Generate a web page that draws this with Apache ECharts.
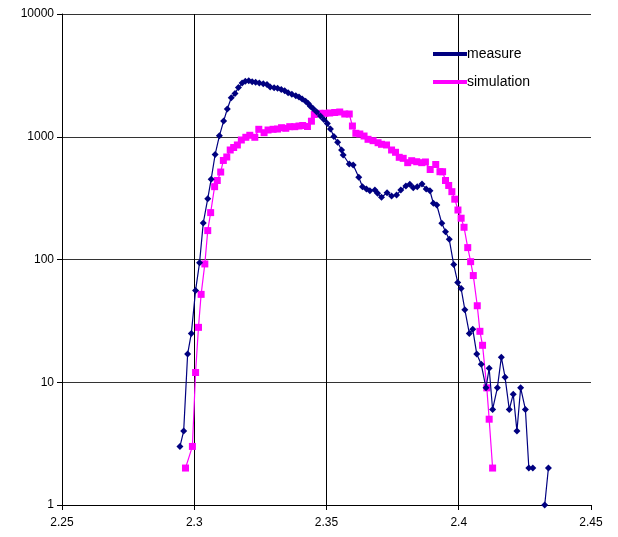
<!DOCTYPE html>
<html>
<head>
<meta charset="utf-8">
<script src="https://cdn.jsdelivr.net/npm/echarts@6/dist/echarts.min.js"></script>
<style>
  html, body { margin: 0; padding: 0; background: #fff; }
  #main { width: 618px; height: 537px; }
</style>
</head>
<body>
<div id="main"></div>
<script>
const measureX = [2.2946, 2.2960, 2.2975, 2.2989, 2.3005, 2.3020, 2.3034, 2.3051, 2.3064, 2.3079,
  2.3095, 2.3111, 2.3125, 2.3140, 2.3154, 2.3167, 2.3181, 2.3193, 2.3206, 2.3219,
  2.3232, 2.3246, 2.3261, 2.3275, 2.3287, 2.3302, 2.3315, 2.3329, 2.3342, 2.3355,
  2.3369, 2.3384, 2.3396, 2.3408, 2.3421, 2.3431, 2.3439, 2.3450, 2.3463, 2.3477,
  2.3490, 2.3503, 2.3515, 2.3528, 2.3542, 2.3557, 2.3563, 2.3586, 2.3601, 2.3622,
  2.3636, 2.3651, 2.3664, 2.3683, 2.3693, 2.3708, 2.3729, 2.3746, 2.3765, 2.3781,
  2.3800, 2.3815, 2.3828, 2.3843, 2.3861, 2.3877, 2.3891, 2.3904, 2.3917, 2.3936,
  2.3950, 2.3964, 2.3981, 2.3996, 2.4009, 2.4023, 2.4040, 2.4053, 2.4068, 2.4085,
  2.4103, 2.4115, 2.4128, 2.4146, 2.4161, 2.4175, 2.4191, 2.4206, 2.4220, 2.4234,
  2.4252, 2.4265, 2.4280, 2.4302, 2.4325, 2.4339]
const measureY = [3, 4, 17, 25, 56, 94, 198, 313, 451, 717,
  1018, 1341, 1683, 2076, 2246, 2518, 2741, 2835, 2857, 2809,
  2782, 2741, 2706, 2666, 2542, 2509, 2481, 2422, 2368, 2280,
  2217, 2160, 2108, 2030, 1945, 1866, 1774, 1693, 1591, 1476,
  1382, 1282, 1156, 1005, 901, 780, 710, 600, 589, 467,
  392, 375, 363, 368, 346, 321, 350, 329, 335, 368,
  397, 410, 385, 392, 412, 375, 363, 287, 278, 197,
  168, 146, 91, 65, 58, 39, 25, 27, 17, 14,
  9, 13, 6, 9, 16, 11, 6, 8, 4, 9,
  6, 2, 2, null, 1, 2]

const simX = [2.2967, 2.2993, 2.3005, 2.3016, 2.3026, 2.3040, 2.3051, 2.3062, 2.3077, 2.3087,
  2.3100, 2.3110, 2.3123, 2.3136, 2.3149, 2.3163, 2.3178, 2.3195, 2.3210, 2.3229,
  2.3244, 2.3264, 2.3279, 2.3298, 2.3315, 2.3330, 2.3346, 2.3361, 2.3380, 2.3396,
  2.3410, 2.3428, 2.3443, 2.3454, 2.3475, 2.3494, 2.3512, 2.3531, 2.3550, 2.3569,
  2.3586, 2.3598, 2.3611, 2.3626, 2.3642, 2.3657, 2.3676, 2.3695, 2.3708, 2.3727,
  2.3746, 2.3761, 2.3775, 2.3790, 2.3807, 2.3822, 2.3841, 2.3860, 2.3874, 2.3892,
  2.3913, 2.3929, 2.3939, 2.3950, 2.3962, 2.3974, 2.3985, 2.3997, 2.4009, 2.4020,
  2.4034, 2.4045, 2.4055, 2.4070, 2.4080, 2.4090, 2.4106, 2.4115, 2.4128]
const simY = [2, 3, 12, 28, 52, 92, 172, 241, 392, 440,
  516, 641, 684, 780, 817, 857, 941, 990, 1028, 990,
  1150, 1079, 1135, 1150, 1156, 1185, 1172, 1208, 1208, 1223,
  1235, 1212, 1339, 1518, 1552, 1552, 1561, 1576, 1591, 1532,
  1532, 1223, 1067, 1053, 1014, 953, 929, 894, 868, 857,
  780, 747, 680, 667, 615, 638, 626, 615, 623, 541,
  594, 519, 519, 440, 401, 357, 310, 253, 217, 183,
  125, 96, 74, 42, 26, 20, 9, 5, 2]

const xTicks = [2.25, 2.3, 2.35, 2.4, 2.45]
const yTicks = [1, 10, 100, 1000, 10000]

const pairs = (xs, ys) => xs.map((x, i) => [x, ys[i]])

const myChart = echarts.init(document.getElementById('main'))
const option = {
  animation: false,
  backgroundColor: '#fff',
  grid: { left: 62, right: 27, top: 14, bottom: 32 },
  legend: {
    orient: 'vertical',
    left: 428,
    top: 42,
    itemGap: 14,
    itemWidth: 34,
    itemHeight: 4,
    icon: 'rect',
    textStyle: { fontFamily: 'Liberation Sans', fontSize: 14, color: '#000', padding: [0, 0, 0, -5] },
    data: ['measure', 'simulation']
  },
  xAxis: {
    type: 'value',
    min: xTicks[0],
    max: xTicks[xTicks.length - 1],
    interval: 0.05,
    axisLine: { show: true, lineStyle: { color: '#000' } },
    axisTick: { show: true, length: 5, lineStyle: { color: '#000' } },
    axisLabel: {
      fontFamily: 'Liberation Sans', fontSize: 12, color: '#000', margin: 12,
      formatter: v => String(Math.round(v * 100) / 100)
    },
    splitLine: { show: true, showMaxLine: false, lineStyle: { color: '#000', width: 1 } }
  },
  yAxis: {
    type: 'log',
    logBase: 10,
    min: yTicks[0],
    max: yTicks[yTicks.length - 1],
    axisLine: { show: true, lineStyle: { color: '#000' } },
    axisTick: { show: true, length: 5, lineStyle: { color: '#000' } },
    axisLabel: {
      fontFamily: 'Liberation Sans', fontSize: 12, color: '#000', margin: 8,
      formatter: v => String(Math.round(v))
    },
    splitLine: { show: true, lineStyle: { color: '#333', width: 1 } },
    minorTick: { show: false }
  },
  series: [
    {
      name: 'measure',
      type: 'line',
      data: pairs(measureX, measureY),
      symbol: 'diamond',
      symbolSize: 7,
      connectNulls: false,
      z: 3,
      lineStyle: { color: '#000080', width: 1.2 },
      itemStyle: { color: '#000080' }
    },
    {
      name: 'simulation',
      type: 'line',
      data: pairs(simX, simY),
      symbol: 'rect',
      symbolSize: 7,
      z: 2,
      lineStyle: { color: '#ff00ff', width: 1.2 },
      itemStyle: { color: '#ff00ff' }
    }
  ]
}
myChart.setOption(option)
</script>
</body>
</html>
